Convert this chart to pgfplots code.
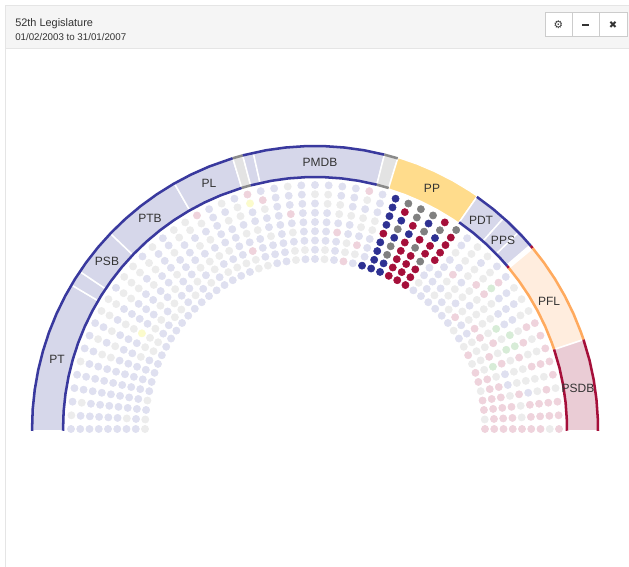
\documentclass[border=0pt]{standalone}
\usepackage{fontspec}
\setmainfont{Liberation Sans}
\newfontfamily\iconfont{DejaVu Sans}
\usepackage{pgfplots}
\pgfplotsset{compat=1.18}
\definecolor{navy}{HTML}{39399E}
\definecolor{crim}{HTML}{A50F3A}
\definecolor{orng}{HTML}{FFAA5E}
\definecolor{grayl}{HTML}{8A8A8A}
\definecolor{blav}{HTML}{D6D7EA}
\definecolor{bgry}{HTML}{E3E3E3}
\definecolor{bamb}{HTML}{FFDC8C}
\definecolor{bfl}{HTML}{FFEDDE}
\definecolor{bpk}{HTML}{EACCD5}
\definecolor{txt}{HTML}{333333}
\definecolor{seatl}{HTML}{DFE0F0}
\definecolor{seatg}{HTML}{ECECEC}
\definecolor{seatp}{HTML}{EFD3DC}
\definecolor{seaty}{HTML}{FBFBCC}
\definecolor{seatn}{HTML}{D7ECD7}
\definecolor{seatN}{HTML}{2E3192}
\definecolor{seatR}{HTML}{A50F3A}
\definecolor{seatG}{HTML}{808080}
\pgfplotsset{
  band/.style={data cs=polar,fill=#1,draw=white,line width=1.1pt,forget plot},
  rim/.style={data cs=polar,draw=#1,line width=1.9pt,no marks,forget plot},
}
\begin{document}
\begin{tikzpicture}
\useasboundingbox (0,0) rectangle (471.75pt,425.25pt);
% panel chrome, pixel coordinates of the screenshot
\begin{scope}[x=0.75pt,y=-0.75pt,shift={(0,425.25pt)}]
  \fill[white] (0,0) rectangle (629,567);
  \fill[black!4] (5,6) rectangle (629,49);
  \draw[black!10,line width=0.75pt] (5,567) -- (5,6) -- (629,6);
  \draw[black!10,line width=0.75pt] (5,49) -- (629,49);
  \node[anchor=west,inner sep=0,font=\fontsize{8.2}{9}\selectfont,text=txt] at (15,24) {52th Legislature};
  \node[anchor=west,inner sep=0,font=\fontsize{7.3}{9}\selectfont,text=txt] at (15,37) {01/02/2003 to 31/01/2007};
  \draw[fill=white,draw=black!20,line width=0.75pt] (545,13) rectangle (572,37);
  \draw[fill=white,draw=black!20,line width=0.75pt] (572,13) rectangle (599,37);
  \draw[fill=white,draw=black!20,line width=0.75pt] (599,13) rectangle (627,37);
  \node[inner sep=0,font=\iconfont\fontsize{8}{9}\selectfont,text=txt] at (558.5,25) {⚙};
  \fill[txt] (582,24) rectangle (589,26.5);
  \node[inner sep=0,font=\iconfont\fontsize{7.5}{9}\selectfont,text=txt] at (613,25) {✖};
\end{scope}
\begin{axis}[
  at={(0,0)},anchor=south west,
  scale only axis,width=471.75pt,height=425.25pt,
  xmin=-315,xmax=314,ymin=-138,ymax=429,
  hide axis,clip=false,
]
% party bands: (angle, radius)
\addplot[band=blav] coordinates {(180.4,283)(176,283)(172,283)(168,283)(164,283)(160,283)(156,283)(152,283)(149.4,283)(149.4,252)(152,252)(156,252)(160,252)(164,252)(168,252)(172,252)(176,252)(180.4,252)(180.4,283)};
\addplot[band=blav] coordinates {(149.4,283)(147.8,283)(146.2,283)(146.2,252)(147.8,252)(149.4,252)(149.4,283)};
\addplot[band=blav] coordinates {(146.2,283)(143,283)(140,283)(136.3,283)(136.3,252)(140,252)(143,252)(146.2,252)(146.2,283)};
\addplot[band=blav] coordinates {(136.3,283)(132,283)(128,283)(124,283)(119.8,283)(119.8,252)(124,252)(128,252)(132,252)(136.3,252)(136.3,283)};
\addplot[band=blav] coordinates {(119.8,283)(115.5,283)(111,283)(106.9,283)(106.9,252)(111,252)(115.5,252)(119.8,252)(119.8,283)};
\addplot[band=bgry] coordinates {(106.9,283)(104.8,283)(104.8,252)(106.9,252)(106.9,283)};
\addplot[band=blav] coordinates {(104.8,283)(102.6,283)(102.6,252)(104.8,252)(104.8,283)};
\addplot[band=blav] coordinates {(102.6,283)(98,283)(94,283)(90,283)(86,283)(82,283)(78,283)(75.8,283)(75.8,252)(78,252)(82,252)(86,252)(90,252)(94,252)(98,252)(102.6,252)(102.6,283)};
\addplot[band=bgry] coordinates {(75.8,283)(73,283)(73,252)(75.8,252)(75.8,283)};
\addplot[band=bamb] coordinates {(73,284)(69,284)(65,284)(61,284)(57,284)(55.1,284)(55.1,251)(57,251)(61,251)(65,251)(69,251)(73,251)(73,284)};
\addplot[band=blav] coordinates {(55.1,283)(51.5,283)(48.2,283)(48.2,252)(51.5,252)(55.1,252)(55.1,283)};
\addplot[band=blav] coordinates {(48.2,283)(46,283)(44,283)(44,252)(46,252)(48.2,252)(48.2,283)};
\addplot[band=blav] coordinates {(44,283)(42,283)(40.5,283)(40.5,252)(42,252)(44,252)(44,283)};
\addplot[band=bfl] coordinates {(39.7,283)(36,283)(32,283)(28,283)(24,283)(20,283)(18.4,283)(18.4,252)(20,252)(24,252)(28,252)(32,252)(36,252)(39.7,252)(39.7,283)};
\addplot[band=bpk] coordinates {(18.4,283)(14,283)(10,283)(6,283)(2,283)(-0.4,283)(-0.4,252)(2,252)(6,252)(10,252)(14,252)(18.4,252)(18.4,283)};
% rims, outer then inner
\addplot[rim=navy] coordinates {(180.4,283)(176,283)(172,283)(168,283)(164,283)(160,283)(156,283)(152,283)(148,283)(144,283)(140,283)(136,283)(132,283)(128,283)(124,283)(120,283)(116,283)(112,283)(106.9,283)};
\addplot[rim=grayl] coordinates {(106.9,283)(104.8,283)};
\addplot[rim=navy] coordinates {(104.8,283)(100,283)(96,283)(92,283)(88,283)(84,283)(80,283)(75.8,283)};
\addplot[rim=grayl] coordinates {(75.8,283)(73,283)};
\addplot[rim=navy] coordinates {(55.1,283)(51,283)(47,283)(43,283)(40.3,283)};
\addplot[rim=crim] coordinates {(40.3,283)(39.7,283)};
\addplot[rim=orng] coordinates {(39.7,283)(36,283)(32,283)(28,283)(24,283)(20,283)(18.4,283)};
\addplot[rim=crim] coordinates {(18.4,283)(14,283)(10,283)(6,283)(2,283)(-0.4,283)};
\addplot[rim=navy] coordinates {(180.4,252)(176,252)(172,252)(168,252)(164,252)(160,252)(156,252)(152,252)(148,252)(144,252)(140,252)(136,252)(132,252)(128,252)(124,252)(120,252)(116,252)(112,252)(106.9,252)};
\addplot[rim=grayl] coordinates {(106.9,252)(104.8,252)};
\addplot[rim=navy] coordinates {(104.8,252)(100,252)(96,252)(92,252)(88,252)(84,252)(80,252)(75.8,252)};
\addplot[rim=grayl] coordinates {(75.8,252)(73,252)};
\addplot[rim=navy] coordinates {(55.1,252)(51,252)(47,252)(43,252)(40.3,252)};
\addplot[rim=crim] coordinates {(40.3,252)(39.7,252)};
\addplot[rim=orng] coordinates {(39.7,252)(36,252)(32,252)(28,252)(24,252)(20,252)(18.4,252)};
\addplot[rim=crim] coordinates {(18.4,252)(14,252)(10,252)(6,252)(2,252)(-0.4,252)};
% seats: column (left to right), ring (inner to outer), party colour
\addplot[scatter,only marks,mark size=2.7pt,scatter src=explicit symbolic,
  scatter/classes={
    l={mark=*,draw=seatl,fill=seatl},
    g={mark=*,draw=seatg,fill=seatg},
    p={mark=*,draw=seatp,fill=seatp},
    y={mark=*,draw=seaty,fill=seaty},
    n={mark=*,draw=seatn,fill=seatn},
    N={mark=*,draw=seatN,fill=seatN},
    R={mark=*,draw=seatR,fill=seatR},
    G={mark=*,draw=seatG,fill=seatG}}]
table[row sep=\\,meta=k,
  x expr={-(170+9.25*\thisrow{r})*cos(\thisrow{c}*180/56)},
  y expr={(170+9.25*\thisrow{r})*sin(\thisrow{c}*180/56)}] {
c r k\\
0 8 l\\0 7 l\\0 6 l\\0 5 l\\0 4 l\\0 3 l\\0 2 l\\0 1 l\\0 0 g\\
1 8 g\\1 7 l\\1 6 l\\1 5 l\\1 4 l\\1 3 l\\1 2 g\\1 1 l\\1 0 g\\
2 8 l\\2 7 g\\2 6 l\\2 5 l\\2 4 l\\2 3 l\\2 2 l\\2 1 l\\2 0 l\\
3 8 l\\3 7 l\\3 6 l\\3 5 l\\3 4 l\\3 3 l\\3 2 l\\3 1 l\\3 0 g\\
4 8 l\\4 7 l\\4 6 l\\4 5 l\\4 4 l\\4 3 l\\4 2 l\\4 1 l\\4 0 l\\
5 8 g\\5 7 l\\5 6 l\\5 5 l\\5 4 l\\5 3 l\\5 2 l\\5 1 l\\5 0 l\\
6 8 l\\6 7 l\\6 6 g\\6 5 g\\6 4 l\\6 3 l\\6 2 l\\6 1 l\\6 0 l\\
7 8 l\\7 7 g\\7 6 l\\7 5 g\\7 4 l\\7 3 l\\7 2 g\\7 1 l\\7 0 l\\
8 8 l\\8 7 l\\8 6 g\\8 5 l\\8 4 l\\8 3 l\\8 2 g\\8 1 g\\8 0 l\\
9 8 g\\9 7 g\\9 6 l\\9 5 g\\9 4 g\\9 3 y\\9 2 g\\9 1 g\\9 0 l\\
10 8 g\\10 7 g\\10 6 l\\10 5 l\\10 4 l\\10 3 l\\10 2 g\\10 1 l\\10 0 l\\
11 8 l\\11 7 g\\11 6 g\\11 5 l\\11 4 l\\11 3 l\\11 2 g\\11 1 l\\11 0 l\\
12 8 g\\12 7 g\\12 6 g\\12 5 l\\12 4 l\\12 3 g\\12 2 l\\12 1 g\\12 0 l\\
13 8 g\\13 7 g\\13 6 l\\13 5 g\\13 4 l\\13 3 l\\13 2 g\\13 1 g\\13 0 l\\
14 8 l\\14 7 g\\14 6 g\\14 5 l\\14 4 l\\14 3 g\\14 2 l\\14 1 l\\14 0 l\\
15 8 g\\15 7 l\\15 6 l\\15 5 l\\15 4 g\\15 3 l\\15 2 l\\15 1 g\\15 0 l\\
16 8 l\\16 7 l\\16 6 g\\16 5 l\\16 4 l\\16 3 l\\16 2 g\\16 1 l\\16 0 l\\
17 8 g\\17 7 g\\17 6 l\\17 5 l\\17 4 l\\17 3 g\\17 2 l\\17 1 g\\17 0 l\\
18 8 g\\18 7 g\\18 6 l\\18 5 g\\18 4 l\\18 3 g\\18 2 g\\18 1 l\\18 0 l\\
19 8 p\\19 7 g\\19 6 l\\19 5 g\\19 4 l\\19 3 g\\19 2 l\\19 1 g\\19 0 l\\
20 8 l\\20 7 l\\20 6 l\\20 5 l\\20 4 l\\20 3 g\\20 2 l\\20 1 g\\20 0 l\\
21 8 g\\21 7 l\\21 6 g\\21 5 l\\21 4 l\\21 3 l\\21 2 l\\21 1 g\\21 0 l\\
22 8 l\\22 7 g\\22 6 g\\22 5 l\\22 4 g\\22 3 l\\22 2 p\\22 1 g\\22 0 g\\
23 8 p\\23 7 y\\23 6 l\\23 5 l\\23 4 g\\23 3 l\\23 2 l\\23 1 l\\23 0 g\\
24 8 l\\24 7 p\\24 6 g\\24 5 l\\24 4 l\\24 3 g\\24 2 l\\24 1 l\\24 0 l\\
25 8 l\\25 7 l\\25 6 l\\25 5 l\\25 4 l\\25 3 l\\25 2 l\\25 1 l\\25 0 l\\
26 8 g\\26 7 l\\26 6 l\\26 5 p\\26 4 l\\26 3 g\\26 2 l\\26 1 g\\26 0 g\\
27 8 l\\27 7 l\\27 6 l\\27 5 l\\27 4 l\\27 3 l\\27 2 l\\27 1 g\\27 0 l\\
28 8 l\\28 7 g\\28 6 l\\28 5 l\\28 4 l\\28 3 l\\28 2 l\\28 1 l\\28 0 l\\
29 8 l\\29 7 g\\29 6 g\\29 5 l\\29 4 l\\29 3 l\\29 2 l\\29 1 g\\29 0 g\\
30 8 l\\30 7 l\\30 6 g\\30 5 g\\30 4 l\\30 3 p\\30 2 l\\30 1 l\\30 0 l\\
31 8 l\\31 7 l\\31 6 l\\31 5 g\\31 4 l\\31 3 l\\31 2 g\\31 1 g\\31 0 p\\
32 8 p\\32 7 g\\32 6 l\\32 5 g\\32 4 g\\32 3 l\\32 2 p\\32 1 g\\32 0 l\\
33 8 l\\33 7 l\\33 6 l\\33 5 g\\33 4 g\\33 3 l\\33 2 l\\33 1 l\\33 0 N\\
34 8 N\\34 7 N\\34 6 N\\34 5 N\\34 4 R\\34 3 N\\34 2 N\\34 1 N\\34 0 N\\
35 8 G\\35 7 R\\35 6 N\\35 5 G\\35 4 N\\35 3 G\\35 2 G\\35 1 N\\35 0 N\\
36 8 G\\36 7 G\\36 6 R\\36 5 N\\36 4 R\\36 3 R\\36 2 R\\36 1 R\\36 0 R\\
37 8 G\\37 7 N\\37 6 G\\37 5 R\\37 4 G\\37 3 R\\37 2 R\\37 1 R\\37 0 R\\
38 8 R\\38 7 G\\38 6 N\\38 5 R\\38 4 R\\38 3 G\\38 2 R\\38 1 R\\38 0 R\\
39 8 G\\39 7 R\\39 6 R\\39 5 R\\39 4 R\\39 3 l\\39 2 l\\39 1 g\\39 0 l\\
40 8 l\\40 7 l\\40 6 g\\40 5 l\\40 4 l\\40 3 l\\40 2 l\\40 1 l\\40 0 l\\
41 8 g\\41 7 g\\41 6 g\\41 5 l\\41 4 p\\41 3 g\\41 2 l\\41 1 g\\41 0 l\\
42 8 g\\42 7 l\\42 6 g\\42 5 g\\42 4 l\\42 3 g\\42 2 g\\42 1 l\\42 0 l\\
43 8 l\\43 7 g\\43 6 g\\43 5 p\\43 4 g\\43 3 g\\43 2 l\\43 1 g\\43 0 l\\
44 8 l\\44 7 p\\44 6 n\\44 5 p\\44 4 g\\44 3 l\\44 2 g\\44 1 p\\44 0 l\\
45 8 g\\45 7 l\\45 6 l\\45 5 g\\45 4 g\\45 3 g\\45 2 g\\45 1 l\\45 0 g\\
46 8 g\\46 7 l\\46 6 l\\46 5 l\\46 4 g\\46 3 g\\46 2 p\\46 1 l\\46 0 l\\
47 8 g\\47 7 g\\47 6 l\\47 5 l\\47 4 n\\47 3 g\\47 2 p\\47 1 g\\47 0 g\\
48 8 p\\48 7 p\\48 6 g\\48 5 n\\48 4 g\\48 3 p\\48 2 g\\48 1 g\\48 0 p\\
49 8 p\\49 7 g\\49 6 p\\49 5 n\\49 4 n\\49 3 g\\49 2 p\\49 1 g\\49 0 g\\
50 8 p\\50 7 g\\50 6 g\\50 5 p\\50 4 g\\50 3 p\\50 2 n\\50 1 g\\50 0 p\\
51 8 p\\51 7 p\\51 6 p\\51 5 g\\51 4 g\\51 3 l\\51 2 g\\51 1 p\\51 0 p\\
52 8 p\\52 7 g\\52 6 g\\52 5 g\\52 4 g\\52 3 l\\52 2 p\\52 1 p\\52 0 g\\
53 8 g\\53 7 p\\53 6 g\\53 5 l\\53 4 p\\53 3 g\\53 2 p\\53 1 p\\53 0 p\\
54 8 p\\54 7 p\\54 6 p\\54 5 p\\54 4 g\\54 3 p\\54 2 p\\54 1 p\\54 0 p\\
55 8 p\\55 7 p\\55 6 p\\55 5 p\\55 4 g\\55 3 p\\55 2 p\\55 1 p\\55 0 g\\
56 8 p\\56 7 g\\56 6 p\\56 5 p\\56 4 p\\56 3 p\\56 2 p\\56 1 p\\56 0 p\\
};
% party names
\node[font=\fontsize{9}{10}\selectfont,text=txt] at (axis cs:-258,70) {PT};
\node[font=\fontsize{9}{10}\selectfont,text=txt] at (axis cs:-208,168) {PSB};
\node[font=\fontsize{9}{10}\selectfont,text=txt] at (axis cs:-165,211) {PTB};
\node[font=\fontsize{9}{10}\selectfont,text=txt] at (axis cs:-106,246) {PL};
\node[font=\fontsize{9}{10}\selectfont,text=txt] at (axis cs:5,267) {PMDB};
\node[font=\fontsize{9}{10}\selectfont,text=txt] at (axis cs:117,241) {PP};
\node[font=\fontsize{9}{10}\selectfont,text=txt] at (axis cs:166,209) {PDT};
\node[font=\fontsize{9}{10}\selectfont,text=txt] at (axis cs:188,189) {PPS};
\node[font=\fontsize{9}{10}\selectfont,text=txt] at (axis cs:234,128) {PFL};
\node[font=\fontsize{9}{10}\selectfont,text=txt] at (axis cs:263,41) {PSDB};
\end{axis}
\end{tikzpicture}
\end{document}
